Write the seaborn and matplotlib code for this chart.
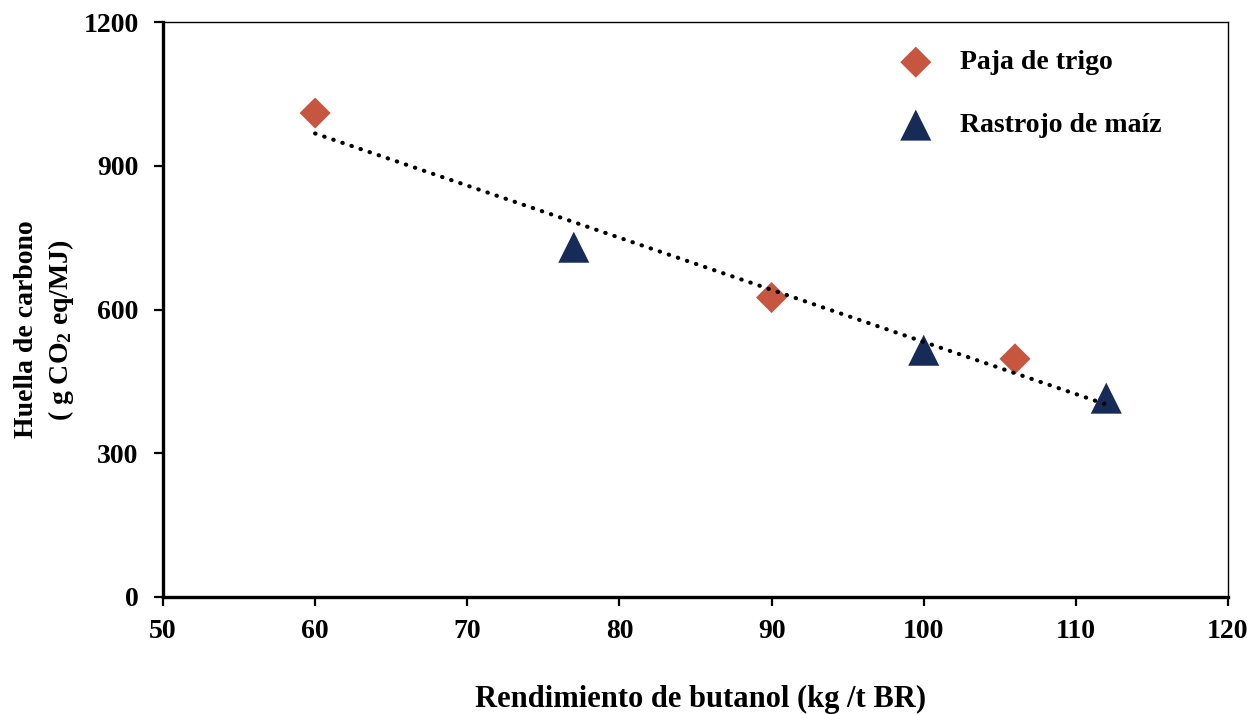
import numpy as np
import pandas as pd
import matplotlib
matplotlib.use("Agg")
import matplotlib.pyplot as plt
import seaborn as sns

# Data
paja_x = [60, 90, 106]
paja_y = [1010, 625, 497]
rastrojo_x = [77, 100, 112]
rastrojo_y = [730, 515, 415]
x_ticks = [50, 60, 70, 80, 90, 100, 110, 120]
y_ticks = [0, 300, 600, 900, 1200]
label_paja = "Paja de trigo"
label_rastrojo = "Rastrojo de maíz"
xlabel = "Rendimiento de butanol (kg /t BR)"
ylabel = "Huella de carbono\n( g CO$_2$ eq/MJ)"

sns.set_theme(style="white")
plt.rcParams['font.family'] = ['Liberation Serif', 'DejaVu Serif']
plt.rcParams['font.weight'] = 'bold'
plt.rcParams['text.color'] = 'black'
plt.rcParams['mathtext.fontset'] = 'custom'
plt.rcParams['mathtext.rm'] = 'Liberation Serif:bold'
plt.rcParams['mathtext.it'] = 'Liberation Serif:bold'
plt.rcParams['mathtext.bf'] = 'Liberation Serif:bold'

fig = plt.figure(figsize=(12.53, 7.14), dpi=100)
ax = fig.add_axes([163/1253, 1-597/714, (1228-163)/1253, (597-22)/714])

df_p = pd.DataFrame({"x": paja_x, "y": paja_y})
df_r = pd.DataFrame({"x": rastrojo_x, "y": rastrojo_y})
df_all = pd.concat([df_p, df_r], ignore_index=True)

sns.scatterplot(data=df_p, x="x", y="y", marker="D", s=250, color="#C65640",
                edgecolor="none", label=label_paja, ax=ax, zorder=3)
sns.scatterplot(data=df_r, x="x", y="y", marker="^", s=500, color="#172B57",
                edgecolor="none", label=label_rastrojo, ax=ax, zorder=3)
sns.regplot(data=df_all, x="x", y="y", scatter=False, ci=None, ax=ax,
            line_kws=dict(color="black", lw=3.0, linestyle=(0, (0.1, 2.2)),
                          dash_capstyle="round", zorder=4))

ax.set_xlim(50, 120)
ax.set_ylim(0, 1200)
ax.set_xticks(x_ticks)
ax.set_yticks(y_ticks)
ax.tick_params(axis='both', which='major', direction='out', length=6.5, width=1.6,
               labelsize=20, color='black', labelcolor='black',
               bottom=True, left=True, top=False, right=False)
ax.tick_params(axis='x', pad=9)
ax.tick_params(axis='y', pad=11)
for lab in ax.get_xticklabels() + ax.get_yticklabels():
    lab.set_fontweight('bold')

for side in ['left', 'bottom']:
    ax.spines[side].set_linewidth(2.4)
    ax.spines[side].set_color('black')
for side in ['top', 'right']:
    ax.spines[side].set_linewidth(1.0)
    ax.spines[side].set_color('black')

ax.set_xlabel(xlabel, fontsize=22, fontweight='bold', labelpad=29.5, color='black')
ax.xaxis.label.set_x(0.505)
ax.set_ylabel(ylabel, fontsize=20, fontweight='bold', labelpad=5, color='black',
              linespacing=1.36)
ax.yaxis.label.set_y(0.465)

leg = ax.legend(loc='upper left', bbox_to_anchor=(863/1253, 1-25/714),
                bbox_transform=fig.transFigure, frameon=False, fontsize=20,
                labelspacing=1.35, handletextpad=0.6)
for t in leg.get_texts():
    t.set_fontweight('bold')
    t.set_color('black')

fig.savefig("out.png", dpi=100)
